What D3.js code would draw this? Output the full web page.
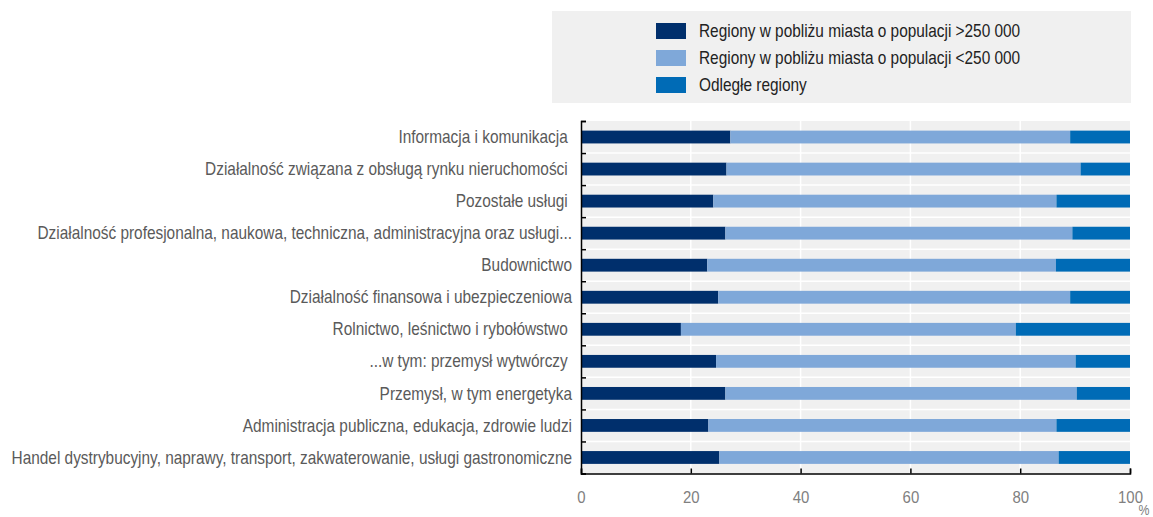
<!DOCTYPE html>
<html>
<head>
<meta charset="utf-8">
<script src="https://cdn.jsdelivr.net/npm/d3@7"></script>
<style>
    body { margin: 0; background: #fff; }
    svg { display: block; font-family: "Liberation Sans", Arial, sans-serif; }
</style>
</head>
<body>
<svg id="chart"></svg>
<script>
// categories, top to bottom
const categories = [
    'Informacja i komunikacja ',
    'Działalność związana z obsługą rynku nieruchomości ',
    'Pozostałe usługi ',
    'Działalność profesjonalna, naukowa, techniczna, administracyjna oraz usługi...',
    'Budownictwo',
    'Działalność finansowa i ubezpieczeniowa',
    'Rolnictwo, leśnictwo i rybołówstwo ',
    '...w tym: przemysł wytwórczy ',
    'Przemysł, w tym energetyka',
    'Administracja publiczna, edukacja, zdrowie ludzi',
    'Handel dystrybucyjny, naprawy, transport, zakwaterowanie, usługi gastronomiczne'
];

const seriesNames = [
    'Regiony w pobliżu miasta o populacji >250 000',
    'Regiony w pobliżu miasta o populacji <250 000',
    'Odległe regiony'
];

// shares in %
const nearLarge = [27.2, 26.5, 24.1, 26.3, 23.0, 25.0, 18.2, 24.6, 26.3, 23.2, 25.2];
const nearSmall = [61.9, 64.5, 62.5, 63.2, 63.5, 64.1, 61.0, 65.5, 64.0, 63.4, 61.8];
const remote = [10.9, 9.0, 13.4, 10.5, 13.5, 10.9, 20.8, 9.9, 9.7, 13.4, 13.0];

const xTicks = [0, 20, 40, 60, 80, 100];
const colors = ['#002F6C', '#7FA8D9', '#006BB6'];

const W = 1153, H = 517;
const plot = { left: 581, right: 1130, top: 121, bottom: 473.5 };
// no narrow font installed, so squeeze the text horizontally
const narrow = 0.88;

const svg = d3.select('#chart')
    .attr('width', W)
    .attr('height', H);

const rows = categories.map((c, i) => ({
    cat: c,
    [seriesNames[0]]: nearLarge[i],
    [seriesNames[1]]: nearSmall[i],
    [seriesNames[2]]: remote[i]
}));

const x = d3.scaleLinear()
    .domain([0, 100])
    .range([plot.left, plot.right]);

const y = d3.scaleBand()
    .domain(categories)
    .range([plot.top, plot.bottom])
    .paddingInner(0.6)
    .paddingOuter(0.3);

const yIdx = d3.scaleLinear()
    .domain([0, categories.length])
    .range([plot.top, plot.bottom]);

const color = d3.scaleOrdinal()
    .domain(seriesNames)
    .range(colors);

// plot background
svg.append('rect')
    .attr('x', plot.left)
    .attr('y', plot.top)
    .attr('width', plot.right - plot.left)
    .attr('height', plot.bottom - plot.top)
    .attr('fill', '#f0f0f0');

// white grid
svg.append('g')
    .selectAll('line')
    .data(xTicks.slice(1, -1))
    .enter().append('line')
    .attr('x1', d => x(d)).attr('x2', d => x(d))
    .attr('y1', plot.top).attr('y2', plot.bottom)
    .attr('stroke', '#fff')
    .attr('stroke-width', 1.5);

svg.append('g')
    .selectAll('line')
    .data(d3.range(1, categories.length))
    .enter().append('line')
    .attr('x1', plot.left).attr('x2', plot.right)
    .attr('y1', d => yIdx(d)).attr('y2', d => yIdx(d))
    .attr('stroke', '#fff')
    .attr('stroke-width', 1.5);

// stacked bars
const stack = d3.stack().keys(seriesNames);

svg.append('g')
    .selectAll('g')
    .data(stack(rows))
    .enter().append('g')
    .attr('fill', d => color(d.key))
    .selectAll('rect')
    .data(d => d)
    .enter().append('rect')
    .attr('x', d => x(d[0]))
    .attr('y', d => y(d.data.cat))
    .attr('width', d => x(d[1]) - x(d[0]))
    .attr('height', y.bandwidth());

// axes
const xAxis = svg.append('g')
    .attr('transform', `translate(0,${plot.bottom})`)
    .call(d3.axisBottom(x).tickValues(xTicks).tickSizeInner(-5).tickSizeOuter(-5).tickPadding(17));

xAxis.selectAll('text')
    .attr('transform', `scale(${narrow},1)`)
    .style('font-size', '17px')
    .style('fill', '#808080');

svg.append('g')
    .attr('transform', `translate(${plot.left},0)`)
    .call(d3.axisLeft(yIdx).ticks(categories.length).tickSizeInner(-5).tickSizeOuter(-5).tickFormat(''));

svg.selectAll('.domain, .tick line')
    .attr('stroke', '#000')
    .attr('stroke-width', 1.5);

svg.append('text')
    .attr('transform', `translate(${plot.right + 14},515) scale(${narrow},1)`)
    .attr('text-anchor', 'middle')
    .style('font-size', '14px')
    .style('fill', '#808080')
    .text('%');

// category labels
svg.append('g')
    .attr('transform', `translate(572,0) scale(${narrow},1)`)
    .selectAll('text')
    .data(categories)
    .enter().append('text')
    .attr('x', 0)
    .attr('y', d => y(d) + y.bandwidth() / 2)
    .attr('dy', '0.35em')
    .attr('text-anchor', 'end')
    .attr('xml:space', 'preserve')
    .style('white-space', 'pre')
    .style('font-size', '17.5px')
    .style('fill', '#5a5a5a')
    .text(d => d);

// legend
svg.append('rect')
    .attr('x', 552)
    .attr('y', 11)
    .attr('width', 579)
    .attr('height', 92)
    .attr('fill', '#f0f0f0');

const legend = svg.append('g')
    .selectAll('g')
    .data(seriesNames)
    .enter().append('g')
    .attr('transform', (d, i) => `translate(656,${31 + i * 27})`);

legend.append('rect')
    .attr('x', 0)
    .attr('y', -8)
    .attr('width', 30)
    .attr('height', 16)
    .attr('fill', d => color(d));

legend.append('text')
    .attr('transform', `translate(43,0) scale(${narrow},1)`)
    .attr('dy', '0.35em')
    .style('font-size', '17.5px')
    .style('fill', '#222')
    .text(d => d);
</script>
</body>
</html>
